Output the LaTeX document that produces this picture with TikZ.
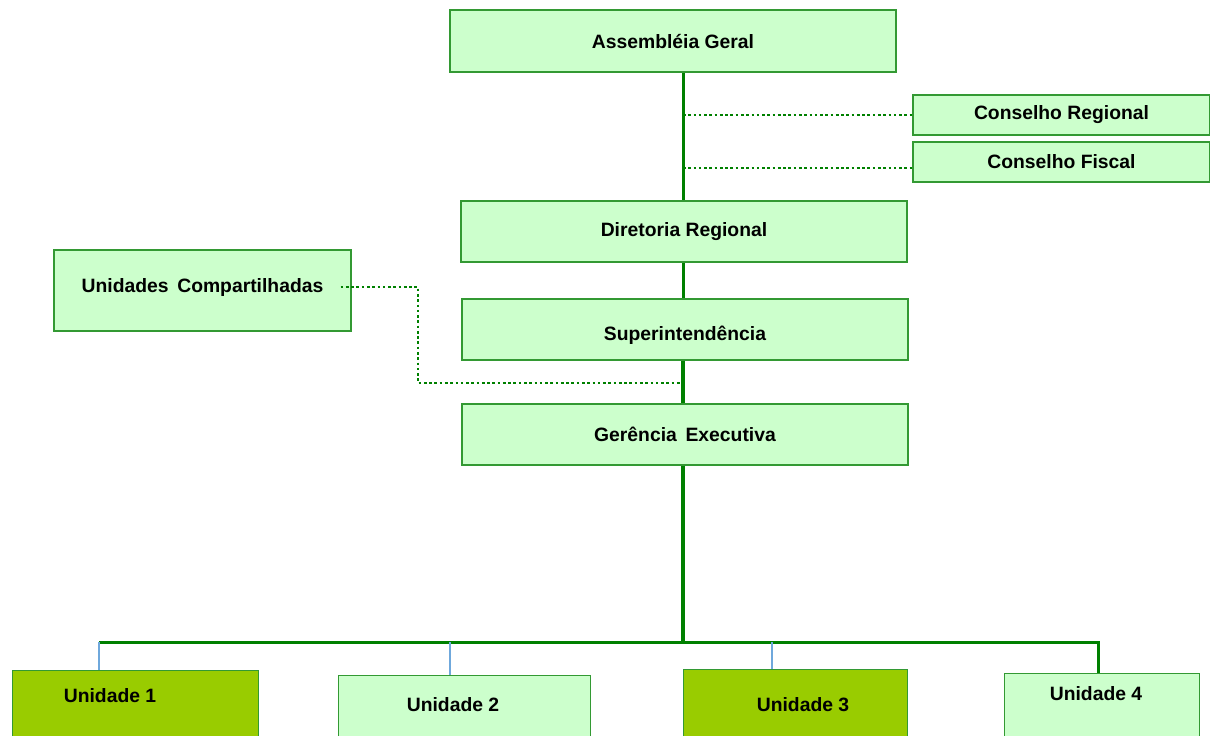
\documentclass[tikz,border=0pt]{standalone}
\usepackage{fontspec}
\setmainfont{Liberation Sans}
\definecolor{boxfill}{HTML}{CCFFCC}
\definecolor{boxline}{HTML}{339933}
\definecolor{trunk}{HTML}{008000}
\definecolor{unitfill}{HTML}{99CC00}
\definecolor{tiecol}{HTML}{6FA8DC}
\tikzset{
  orgbox/.style={draw=boxline, fill=boxfill, line width=0.8pt, inner sep=0pt,
    font=\bfseries\fontsize{11}{13}\selectfont},
  unitbox/.style={orgbox, anchor=north west, minimum height=2cm},
  unittext/.style={font=\bfseries\fontsize{11}{13}\selectfont},
  trunkline/.style={trunk, line width=1.7pt},
  dotline/.style={trunk, line width=1.5pt, dash pattern=on 1.5pt off 1.5pt},
  tieline/.style={tiecol, line width=0.6pt}
}
\begin{document}
\begin{tikzpicture}[x=0.02cm, y=-0.02cm]
\useasboundingbox (0,0) rectangle (1210,735);
\clip (0,0) rectangle (1210,735);

\node[orgbox, minimum width=8.92cm, minimum height=1.24cm] (ag) at (673,41) {Assembléia Geral};
\node[orgbox, minimum width=5.94cm, minimum height=0.8cm] (cr) at (1061.5,115) {Conselho Regional};
\node[orgbox, minimum width=5.94cm, minimum height=0.8cm] (cf) at (1061.5,162) {Conselho Fiscal};
\node[orgbox, minimum width=8.92cm, minimum height=1.22cm] (dr) at (684,231.5) {Diretoria Regional};
\node[orgbox, minimum width=5.94cm, minimum height=1.62cm, text depth=0.2cm] (uc) at (202.5,290.5) {Unidades\hspace{0.45em}Compartilhadas};
\node[orgbox, minimum width=8.92cm, minimum height=1.22cm, text height=0.5cm] (sup) at (685,329.5) {Superintendência};
\node[orgbox, minimum width=8.92cm, minimum height=1.22cm] (ge) at (685,434.5) {Gerência\hspace{0.45em}Executiva};

% unidades
\node[unitbox, fill=unitfill, minimum width=4.92cm] (u1) at (12,670) {};
\node[unitbox, minimum width=5.04cm] (u2) at (338,675) {};
\node[unitbox, fill=unitfill, minimum width=4.48cm] (u3) at (683,669) {};
\node[unitbox, minimum width=3.9cm] (u4) at (1004,673) {};
\node[unittext] (u1t) at (110,696) {Unidade 1};
\node[unittext] (u2t) at (453,705) {Unidade 2};
\node[unittext] (u3t) at (803,705) {Unidade 3};
\node[unittext] (u4t) at (1096,694) {Unidade 4};

% linhas
\coordinate (spine) at (683,0);
\coordinate (b1) at (99,642);
\coordinate (b2) at (450,642);
\coordinate (b3) at (772,642);
\coordinate (b4) at (1098,642);
\draw[trunkline] (spine |- ag.south) -- (spine |- dr.north);
\draw[trunkline] (spine |- dr.south) -- (spine |- sup.north);
\draw[trunkline, line width=2.2pt] (spine |- sup.south) -- (spine |- ge.north);
\draw[trunkline, line width=2.4pt] (spine |- ge.south) -- (spine |- b1);
\draw[trunkline] (b1) -- (b4) -- (b4 |- u4.north);
\draw[tieline] (b1) -- (b1 |- u1.north);
\draw[tieline] (b2) -- (b2 |- u2.north);
\draw[tieline] (b3) -- (b3 |- u3.north);

\draw[dotline] (spine |- cr.west) -- (cr.west);
\draw[dotline] ([yshift=-0.12cm]spine |- cf.west) -- ([yshift=-0.12cm]cf.west);
\draw[dotline] ([xshift=-0.22cm, yshift=0.07cm]uc.east) -| (418,383) -- (spine |- 0,383);
\end{tikzpicture}
\end{document}
